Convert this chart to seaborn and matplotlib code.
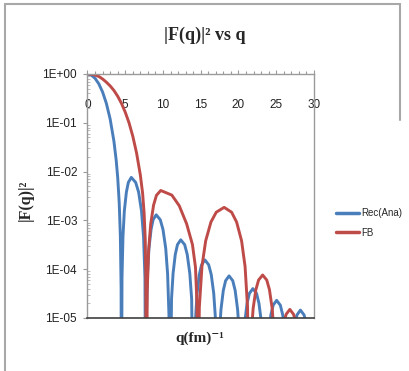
import numpy as np
import pandas as pd
import matplotlib
matplotlib.use("Agg")
import matplotlib.pyplot as plt
import matplotlib.ticker as mticker
from matplotlib.lines import Line2D
import seaborn as sns

# ---- data (values below 1E-05 are hidden by the axis) ----
rec_q = [0.0, 0.5, 1.0, 1.5, 2.0, 2.5, 3.0, 3.5, 3.8, 4.0, 4.2, 4.35, 4.45, 4.49,
         4.57, 4.70, 4.88, 5.15, 5.41, 5.80, 6.38, 6.77, 7.15, 7.42, 7.61, 7.73,
         7.81, 7.95, 8.14, 8.42, 8.69, 9.10, 9.64, 10.00, 10.36, 10.61, 10.79, 10.90,
         11.13, 11.335, 11.625, 11.915, 12.35, 12.87, 13.21, 13.55, 13.795, 14.07,
         14.31, 14.51, 14.81, 15.11, 15.55, 16.05, 16.39, 16.72, 16.95, 17.22,
         17.465, 17.68, 17.985, 18.29, 18.75, 19.24, 19.56, 19.88, 20.12, 20.37,
         20.83, 21.135, 21.44, 21.90, 22.39, 22.71, 23.03, 23.52,
         23.98, 24.285, 24.59, 25.05, 25.54, 25.86, 26.18, 26.67,
         27.435, 27.74, 28.20, 28.69, 29.00, 29.81]
rec_f = [1.0, 0.951, 0.8165, 0.628, 0.4265, 0.2494, 0.1195, 0.0419, 0.0171, 0.00758,
         0.00231, 4.9e-4, 4.2e-5, 1e-8,
         6.7e-5, 4.7e-4, 1.57e-3, 3.8e-3, 6.0e-3, 7.6e-3, 6.0e-3, 3.8e-3, 1.57e-3, 4.7e-4, 6.7e-5, 1e-8,
         1.15e-5, 8.0e-5, 2.68e-4, 6.5e-4, 1.03e-3, 1.3e-3, 1.03e-3, 6.5e-4, 2.68e-4, 8.0e-5, 1.15e-5, 1e-8,
         2.47e-5, 8.2e-5, 2.0e-4, 3.18e-4, 4.0e-4, 3.18e-4, 2.0e-4, 8.2e-5, 2.47e-5, 1e-8,
         9.6e-6, 3.19e-5, 7.75e-5, 1.23e-4, 1.55e-4, 1.23e-4, 7.75e-5, 3.19e-5, 9.6e-6, 1e-8,
         4.5e-6, 1.5e-5, 3.65e-5, 5.8e-5, 7.3e-5, 5.8e-5, 3.65e-5, 1.5e-5, 4.5e-6, 1e-8,
         8.2e-6, 2.0e-5, 3.18e-5, 4.0e-5, 3.18e-5, 2.0e-5, 8.2e-6, 1e-8,
         4.7e-6, 1.15e-5, 1.83e-5, 2.3e-5, 1.83e-5, 1.15e-5, 4.7e-6, 1e-8,
         7.25e-6, 1.15e-5, 1.45e-5, 1.15e-5, 7.25e-6, 1e-8]

fb_q = [0.0, 0.5, 1.0, 1.5, 2.0, 2.5, 3.0, 3.5, 4.0, 4.5, 5.0, 5.5, 6.0, 6.5, 7.0, 7.3,
        7.5, 7.65, 7.72, 7.80,
        7.91, 8.10, 8.37, 8.75, 9.13, 9.70, 11.17, 12.15, 13.13, 13.90, 14.30, 14.50, 14.60,
        14.81, 15.16, 15.65, 16.35, 17.05, 18.10, 19.09, 19.75, 20.41, 20.87, 21.20, 21.40,
        21.69, 21.94, 22.30, 22.66, 23.20, 23.74, 24.10, 24.46, 24.71, 25.00,
        25.95, 26.31, 26.80, 27.29, 27.65, 28.50]
fb_f = [1.0, 0.99, 0.95, 0.89, 0.79, 0.68, 0.57, 0.46, 0.35, 0.25, 0.165, 0.10, 0.053,
        0.024, 0.0085, 0.0036, 0.0014, 4.0e-4, 8.0e-5, 1e-8,
        3.6e-5, 2.5e-4, 8.4e-4, 2.05e-3, 3.26e-3, 4.1e-3, 3.3e-3, 2.0e-3, 8.5e-4, 3.2e-4, 1.1e-4, 2.0e-5, 1e-8,
        1.64e-5, 1.14e-4, 3.8e-4, 9.25e-4, 1.47e-3, 1.85e-3, 1.47e-3, 9.25e-4, 3.8e-4, 1.14e-4, 1.64e-5, 1e-8,
        4.7e-6, 1.57e-5, 3.8e-5, 6.0e-5, 7.6e-5, 6.0e-5, 3.8e-5, 1.57e-5, 4.7e-6, 1e-8,
        7.5e-6, 1.19e-5, 1.5e-5, 1.19e-5, 7.5e-6, 1e-8]

series_names = ["Rec(Ana)", "FB"]
series_colors = ["#4a7ebb", "#be4b48"]
x_ticks = [0, 5, 10, 15, 20, 25, 30]
y_ticks = [1e0, 1e-1, 1e-2, 1e-3, 1e-4, 1e-5]

df = pd.concat([
    pd.DataFrame({"q": rec_q, "F2": rec_f, "series": series_names[0]}),
    pd.DataFrame({"q": fb_q, "F2": fb_f, "series": series_names[1]}),
], ignore_index=True)

sns.set_style("white")
plt.rcParams["font.family"] = ["Liberation Sans", "DejaVu Sans"]

serif = ["Liberation Serif", "DejaVu Serif"]

fig = plt.figure(figsize=(4.10, 3.71), dpi=100)
ax = fig.add_axes([87.5 / 410, 1 - 318 / 371, (314 - 87.5) / 410, (318 - 74) / 371])

sns.lineplot(data=df, x="q", y="F2", hue="series", hue_order=series_names,
             palette=series_colors, sort=False, estimator=None, linewidth=2.1,
             legend=False, ax=ax)

ax.set_yscale("log")
ax.set_ylim(1e-5, 1)
ax.set_xlim(0, 30)
ax.set_yticks(y_ticks)
ax.yaxis.set_major_formatter(mticker.FuncFormatter(lambda v, p: "{:.0E}".format(v)))
ax.yaxis.set_minor_locator(mticker.LogLocator(base=10, subs=np.arange(2, 10)))
ax.yaxis.set_minor_formatter(mticker.NullFormatter())
ax.set_xticks(x_ticks)
ax.xaxis.set_minor_locator(mticker.MultipleLocator(1))

ax.tick_params(axis="x", which="both", top=True, bottom=False, labeltop=True,
               labelbottom=False, direction="out", color="#9a9a9a", width=0.8)
ax.tick_params(axis="x", which="major", length=3, pad=-30, labelsize=8.5, labelcolor="#222222")
ax.tick_params(axis="x", which="minor", length=2)
ax.tick_params(axis="y", which="major", left=True, direction="out", length=3,
               color="#9a9a9a", pad=4.5, labelsize=8.5, labelcolor="#222222")
ax.tick_params(axis="y", which="minor", left=True, direction="in", length=2.5,
               color="#b0b0b0", width=0.6)

for s in ["left", "top", "right"]:
    ax.spines[s].set_color("#9a9a9a")
    ax.spines[s].set_linewidth(1.0)
ax.spines["bottom"].set_color("#404040")
ax.spines["bottom"].set_linewidth(1.2)
ax.set_xlabel("")
ax.set_ylabel("")

fig.text(0.5, 1 - 35 / 371, "|F(q)|² vs q", ha="center", va="center",
         fontsize=13, fontweight="bold", family=serif)
fig.text(25.5 / 410, 1 - 200 / 371, "|F(q)|²", ha="center", va="center",
         rotation=90, fontsize=11.5, fontweight="bold", family=serif)
fig.text(200 / 410, 1 - 338 / 371, "q(fm)⁻¹", ha="center", va="center",
         fontsize=11, fontweight="bold", family=serif)

handles = [Line2D([0], [0], color=c, lw=2.5) for c in series_colors]
fig.legend(handles, series_names, loc="upper left",
           bbox_to_anchor=(336 / 410, 1 - 208 / 371), frameon=False,
           borderpad=0, borderaxespad=0, handlelength=2.4, handletextpad=0.15,
           labelspacing=1.0, fontsize=7)

# outer frame of the picture
fig.add_artist(Line2D([5 / 410, 5 / 410], [0, 1 - 4 / 371], color="#a8a8a8", lw=1.5))
fig.add_artist(Line2D([5 / 410, 400 / 410], [1 - 4 / 371, 1 - 4 / 371], color="#a8a8a8", lw=1.5))
fig.add_artist(Line2D([400 / 410, 400 / 410], [1 - 4 / 371, 1 - 120 / 371], color="#a8a8a8", lw=1.5))

fig.savefig("out.png", dpi=100)
